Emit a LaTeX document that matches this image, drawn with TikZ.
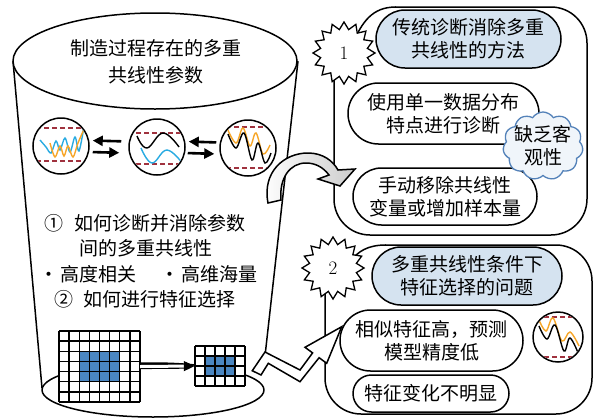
\documentclass[tikz,border=0pt]{standalone}
\usepackage{fontspec}
\newfontfamily\cjk{Noto Sans CJK SC}
\usetikzlibrary{shapes.geometric,shapes.symbols,shapes.misc,arrows.meta}
\definecolor{dashred}{RGB}{160,50,62}
\definecolor{waveblue}{RGB}{41,171,226}
\definecolor{waveorange}{RGB}{247,166,40}
\definecolor{pillblue}{RGB}{213,227,240}
\definecolor{cloudedge}{RGB}{84,130,185}
\definecolor{cloudfill}{RGB}{240,245,250}
\definecolor{cellblue}{RGB}{74,134,193}
\tikzset{
  outline/.style={line width=1.5pt, line join=round},
  cjktext/.style={font=\cjk\fontsize{19}{23}\selectfont, align=center, inner sep=0pt},
  bigtext/.style={font=\cjk\fontsize{19}{27}\selectfont, align=center, inner sep=0pt},
  pill/.style={rounded rectangle, draw, line width=1.5pt, fill=white, cjktext},
  titlepill/.style={pill, fill=pillblue},
  burst/.style={star, star points=16, star point ratio=1.3, minimum size=62pt, draw,
    line width=1.3pt, fill=white, inner sep=0pt, font=\fontsize{19}{19}\selectfont},
  lens/.style={circle, draw, line width=1.5pt, inner sep=0pt, fill=white},
  limit/.style={dashred, dash pattern=on 5pt off 3pt, line width=1.3pt},
  wave/.style={line width=1.4pt},
  pairarrow/.style={line width=2.6pt, -{Triangle[length=10pt,width=10pt]}},
  gridline/.style={line width=1.4pt},
  gridarrow/.style={double, double distance=3pt, line width=1.1pt, -{Triangle[length=11pt,width=10pt]}},
  blockarrow/.style={line width=1.5pt, line join=miter},
}
\begin{document}
\begin{tikzpicture}[x=1pt, y=-1pt]
\useasboundingbox (0,0) rectangle (597,418);

% ---------- bucket ----------
\draw[outline] (153,390) ellipse [x radius=111pt, y radius=27pt];
\draw[outline] (13,61) -- (42,388);
\draw[outline] (298,61) -- (265,356);
\draw[outline, fill=white] (155,61) ellipse [x radius=142pt, y radius=48pt];
\node[bigtext] (title) at (156,61.5) {制造过程存在的多重\\共线性参数};

% three signal lenses
\node[lens, minimum size=56pt] (c1) at (61,146) {};
\node[lens, minimum size=56pt] (c2) at (157,147) {};
\node[lens, minimum size=56pt] (c3) at (248,148) {};

\begin{scope}
  \clip (c1.center) circle (27pt);
  \draw[limit] (20,128) -- (100,128);
  \draw[limit] (20,161) -- (100,161);
  \draw[wave, waveblue] plot[smooth, tension=0.55] coordinates
    {(40,140) (46,147) (51,153) (56,141) (60,150) (65,138) (70,152) (75,137) (79,151) (84,126)};
  \draw[wave, waveorange] plot[smooth, tension=0.55] coordinates
    {(50,143) (55,157) (60,146) (64,156) (68,146) (73,157) (78,143) (85,127)};
\end{scope}
\begin{scope}
  \clip (c2.center) circle (27pt);
  \draw[limit] (120,133) -- (200,133);
  \draw[limit] (120,164) -- (200,164);
  \draw[wave, black] plot[smooth, tension=0.7] coordinates
    {(137,136) (147,148) (163,133) (179,147)};
  \draw[wave, waveblue] plot[smooth, tension=0.7] coordinates
    {(141,148) (152,163) (167,150) (183,164)};
\end{scope}
\begin{scope}
  \clip (c3.center) circle (27pt);
  \draw[limit] (210,127) -- (290,127);
  \draw[limit] (210,168) -- (290,168);
  \draw[wave, waveorange] plot[smooth, tension=0.6] coordinates
    {(227,128) (236,143) (243,128) (250,146) (256,133) (263,154) (270,145)};
  \draw[wave, black] plot[smooth, tension=0.6] coordinates
    {(228,134) (236,148) (244,133) (252,160) (258,143) (265,163) (271,153)};
\end{scope}

\draw[pairarrow, shorten <=7pt, shorten >=3pt] ([yshift=5.5pt]c2.west) -- ([yshift=5.5pt]c1.east);
\draw[pairarrow, shorten <=3pt, shorten >=9pt] ([yshift=-6pt]c1.east) -- ([yshift=-6pt]c2.west);
\draw[pairarrow, shorten <=3pt, shorten >=3pt] ([yshift=5.5pt]c3.west) -- ([yshift=5.5pt]c2.east);
\draw[pairarrow, shorten <=2pt, shorten >=5pt] ([yshift=-6pt]c2.east) -- ([yshift=-6pt]c3.west);

% questions
\node[bigtext] (q1) at (145,223) {①\hspace{0.55em}如何诊断并消除参数};
\node[bigtext] (q1b) at (146,248) {间的多重共线性};
\node[bigtext] (q1c) at (88,274) {•\hspace{0.1em}高度相关};
\node[bigtext] (q1d) at (209,274) {•\hspace{0.1em}高维海量};
\node[bigtext] (q2) at (145,299) {②\hspace{0.55em}如何进行特征选择};

% feature grids
\node[inner sep=0pt, minimum width=81pt, minimum height=71pt, fill=white] (gbig) at (99.5,366.5) {};
\fill[cellblue] (79.25,351.29) rectangle (119.75,381.71);
\foreach \i in {0,...,8} \draw[gridline] ({59+\i*10.125},331) -- ({59+\i*10.125},402);
\foreach \j in {0,...,7} \draw[gridline] (59,{331+\j*10.143}) -- (140,{331+\j*10.143});

\node[inner sep=0pt, minimum width=50pt, minimum height=40pt, fill=white] (gsmall) at (220,366) {};
\fill[cellblue] (205,356) rectangle (235,376);
\foreach \i in {0,...,5} \draw[gridline] ({195+\i*10},346) -- ({195+\i*10},386);
\foreach \j in {0,...,4} \draw[gridline] (195,{346+\j*10}) -- (245,{346+\j*10});

\draw[gridarrow] (gbig.east) -- (gsmall.west);

% ---------- panel 1 ----------
\draw[outline, rounded corners=36pt] (334,70) -- (334,235) -- (587,235) -- (587,7) -- (395,7);
\draw[outline] (396,7) .. controls (372,7) and (362,22) .. (352,45);
\node[titlepill, minimum width=185pt, minimum height=58pt] (p1title) at (468.5,39) {传统诊断消除多重\\共线性的方法};
\node[pill, minimum width=191pt, minimum height=61pt] (p1a) at (443.5,113.5) {使用单一数据分布\\特点进行诊断};
\node[pill, minimum width=184pt, minimum height=57pt] (p1b) at (445,196.5) {手动移除共线性\\变量或增加样本量};
\node[burst] (s1) at (344,53) {1};
\node[cloud, cloud puffs=11, cloud puff arc=115, aspect=1.2, draw=cloudedge, fill=cloudfill,
  line width=1.3pt, minimum width=80pt, minimum height=68pt, inner sep=0pt] (cloud) at (543,146) {};
\node[cjktext] (cloudtext) at (cloud.center) {缺乏客\\观性};

% ---------- panel 2 ----------
\draw[outline, rounded corners=36pt] (325,280) -- (325,414) -- (592,414) -- (592,245) -- (385,245);
\draw[outline] (386,245) .. controls (368,245) and (358,251) .. (350,262);
\node[titlepill, minimum width=190pt, minimum height=58pt] (p2title) at (467,276) {多重共线性条件下\\特征选择的问题};
\node[pill, minimum width=183pt, minimum height=61pt] (p2a) at (431.5,340.5) {相似特征高，预测\\模型精度低};
\node[pill, minimum width=156pt, minimum height=37pt] (p2b) at (431,393.5) {特征变化不明显};
\node[burst] (s2) at (333,268) {2};

\node[lens, minimum size=50pt] (c4) at (558,337) {};
\begin{scope}
  \clip (c4.center) circle (24pt);
  \draw[limit] (520,317) -- (600,317);
  \draw[limit] (520,357) -- (600,357);
  \draw[wave, waveorange] plot[smooth, tension=0.6] coordinates
    {(539,320) (546,331) (553,318) (562,341) (570,332) (579,346)};
  \draw[wave, black] plot[smooth, tension=0.6] coordinates
    {(539,326) (547,339) (555,325) (564,351) (570,338) (579,355)};
\end{scope}

% ---------- block arrows ----------
\draw[blockarrow, left color=white, right color=gray!40]
  (268,203) .. controls (262,172) and (284,153) .. (308,153)
  .. controls (323,153) and (333,161) .. (338,170)
  -- (355,169) -- (340,186) -- (318,179) -- (329,175)
  .. controls (323,167) and (315,163) .. (306,163)
  .. controls (290,163) and (279,178) .. (281,200) -- cycle;

\draw[blockarrow, fill=white]
  (252.3,370.7) -- (265,352) -- (300,370) -- (312.6,352.9) -- (305,347.3)
  -- (341.7,326.7) -- (326.7,363.3) -- (319.1,357.7) -- (300,381.7)
  -- (268.3,363.3) -- (261,375) -- cycle;
\end{tikzpicture}
\end{document}
